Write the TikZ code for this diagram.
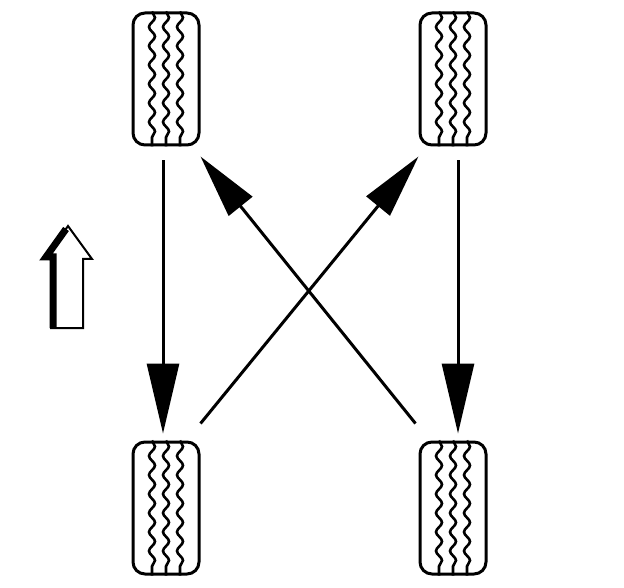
\documentclass[tikz,border=0pt]{standalone}
\usepackage{tikz}
\usetikzlibrary{arrows.meta,decorations.pathmorphing}

\begin{document}
\begin{tikzpicture}[x=1pt, y=-1pt, tyre/.style={draw, line width=3pt, rounded corners=12pt, minimum width=66pt, minimum height=132pt, inner sep=0pt}, tread/.style={line width=2.6pt, decorate, decoration={snake, segment length=19pt, amplitude=3pt}}, swap/.style={line width=3pt, -{Triangle[length=70pt,width=32pt]}}, cross/.style={line width=3pt, -{Triangle[length=64pt,width=30pt]}}]
\useasboundingbox (0,0) rectangle (624,588);
\node[tyre] (fl) at (166,79) {};
\node[tyre] (fr) at (453,79) {};
\node[tyre] (rl) at (166,508) {};
\node[tyre] (rr) at (453,508) {};
\foreach \t in {fl,fr,rl,rr}
  \foreach \dx in {-14,0,14}
    \draw[tread] ([xshift=\dx pt]\t.north) -- ([xshift=\dx pt]\t.south);
\draw[swap] ([xshift=-3pt,yshift=-14pt]fl.south)--([xshift=-3pt,yshift=7pt]rl.north);
\draw[swap] ([xshift=5pt,yshift=-14pt]fr.south)--([xshift=5pt,yshift=7pt]rr.north);
\draw[cross] ([yshift=17pt]rl.north east)--([yshift=-10pt]fr.south west);
\draw[cross] ([xshift=-3pt,yshift=17pt]rr.north west)--([yshift=-10pt]fl.south east);
% forward direction
\draw[line width=2pt, line join=miter] (68,226)--(92,259)--(83,259)--(83,328)--(51,328)--(51,259)--(45,259)--cycle;
\draw[line width=7pt, line join=miter] (66,229)--(46,257)--(53,257)--(53,328);
\end{tikzpicture}
\end{document}
